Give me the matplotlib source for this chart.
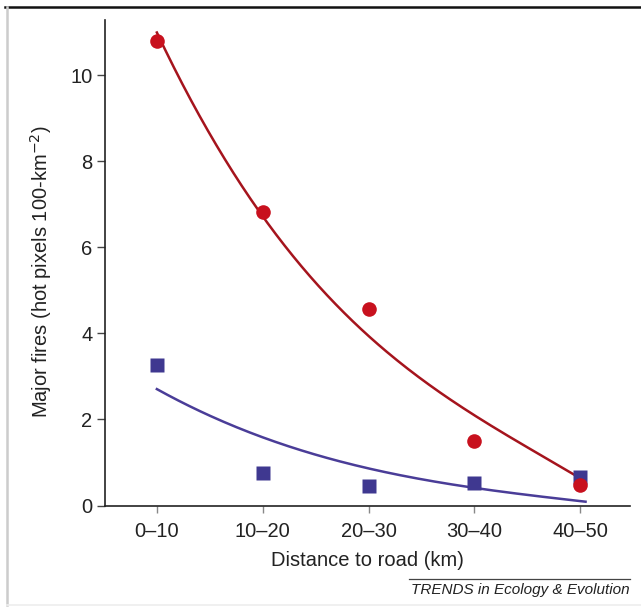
import numpy as np
import matplotlib
matplotlib.use("Agg")
import matplotlib.pyplot as plt
from matplotlib.lines import Line2D

plt.rcParams['font.family'] = ['Liberation Sans', 'DejaVu Sans']

categories = ["0–10", "10–20", "20–30", "30–40", "40–50"]
roadless = [10.8, 6.82, 4.57, 1.51, 0.48]       # red circles
other = [3.27, 0.75, 0.45, 0.52, 0.66]          # blue squares

# fitted curves
red_fit_x = [0.0, 0.5, 1.0, 1.5, 2.0, 2.5, 3.0, 3.5, 4.0]
red_fit_y = [11.05, 8.55, 6.70, 5.25, 3.97, 2.95, 2.05, 1.33, 0.66]
blue_fit_x = [0.0, 0.5, 1.0, 1.5, 2.0, 2.5, 3.0, 3.5, 4.05]
blue_fit_y = [2.70, 2.10, 1.58, 1.20, 0.84, 0.60, 0.42, 0.26, 0.08]

W, H = 641, 608
fig = plt.figure(figsize=(W / 100, H / 100), dpi=100)
ax = fig.add_axes([105 / W, 1 - 505.5 / H, (630 - 105) / W, (505.5 - 20) / H])

xpos = np.arange(len(categories))

def smooth(xs, ys):
    c = np.polyfit(xs, ys, 3)
    xx = np.linspace(min(xs), max(xs), 200)
    return xx, np.polyval(c, xx)

rx, ry = smooth(red_fit_x, red_fit_y)
bx, by = smooth(blue_fit_x, blue_fit_y)
ax.plot(rx, ry, color='#a5141d', lw=1.8, zorder=2)
ax.plot(bx, by, color='#4a3d98', lw=1.8, zorder=2)

ax.plot(xpos, other, 's', color='#3f3890', ms=9.5, mec='none', zorder=3)
ax.plot(xpos, roadless, 'o', color='#c8111e', ms=10.5, mec='none', zorder=4)

ax.set_xlim(-0.49, 4.47)
ax.set_ylim(0, 11.29)
ax.set_xticks(xpos)
ax.set_xticklabels(categories)
ax.set_yticks([0, 2, 4, 6, 8, 10])
for s in ['top', 'right']:
    ax.spines[s].set_visible(False)
for s in ['left', 'bottom']:
    ax.spines[s].set_color('#222222')
    ax.spines[s].set_linewidth(1.2)
ax.tick_params(axis='y', direction='out', length=6, width=1, color='#444444',
               labelsize=14.5, pad=3, labelcolor='#222222')
ax.tick_params(axis='x', direction='out', length=5, width=1, color='#888888',
               labelsize=14.5, pad=7, labelcolor='#222222')
ax.set_xlabel("Distance to road (km)", fontsize=14.5, color='#222222', labelpad=7)
ax.set_ylabel("Major fires (hot pixels 100-km$^{-2}$)", fontsize=14.5, color='#222222')
ax.yaxis.set_label_coords(-0.097, 0.481)

# figure frame
fig.add_artist(Line2D([5 / W, 1], [1 - 7 / H, 1 - 7 / H], color='#111111', lw=1.8))
fig.add_artist(Line2D([6.5 / W, 6.5 / W], [1 - 7 / H, 1 - 605 / H], color='#cccccc', lw=1.8))
fig.add_artist(Line2D([6.5 / W, 1], [1 - 605 / H, 1 - 605 / H], color='#eeeeee', lw=1.2))

# footer
fig.add_artist(Line2D([409 / W, 630 / W], [1 - 579 / H, 1 - 579 / H], color='#444444', lw=0.9))
fig.text(630 / W, 1 - 590 / H, "TRENDS in Ecology & Evolution", ha='right', va='center',
         fontsize=11, style='italic', color='#222222')

fig.savefig("out.png", dpi=100)
